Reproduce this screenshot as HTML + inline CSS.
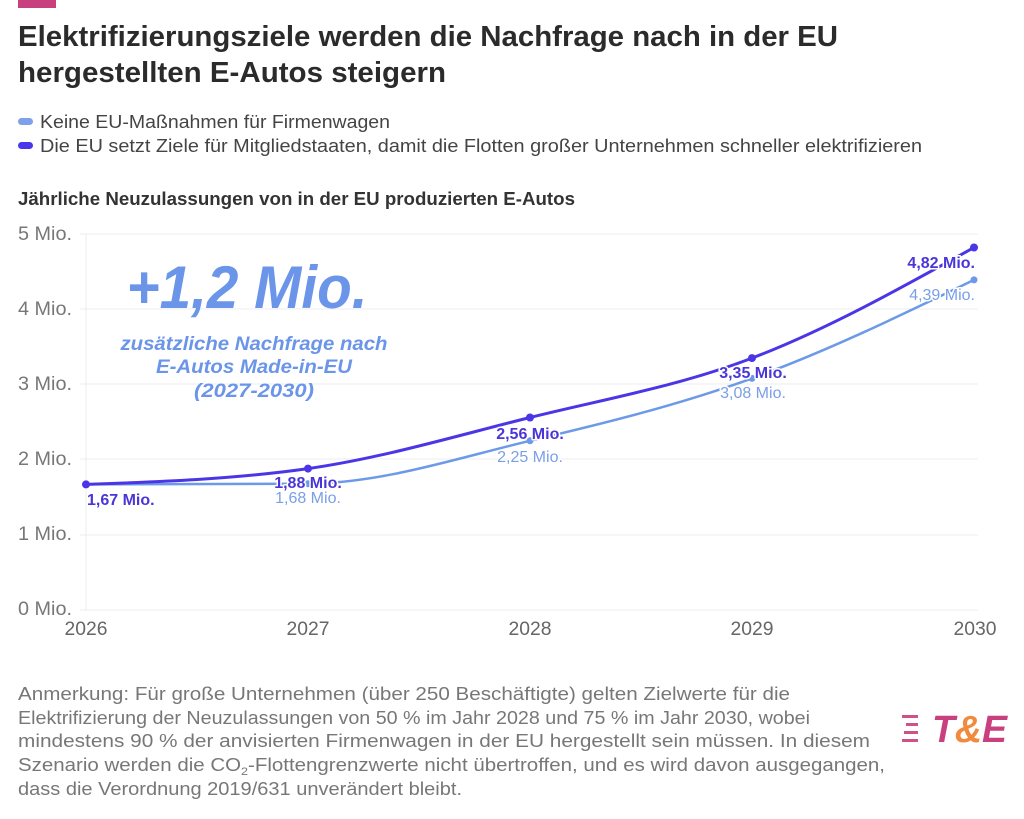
<!DOCTYPE html>
<html>
<head>
<meta charset="utf-8">
<style>
  html,body{margin:0;padding:0;background:#fff;}
  svg{display:block;}
  text{font-family:"Liberation Sans", Arial, sans-serif;}
</style>
</head>
<body>
<svg width="1024" height="819" viewBox="0 0 1024 819" xmlns="http://www.w3.org/2000/svg">
  <rect width="1024" height="819" fill="#fff"/>
  <!-- top pink bar -->
  <rect x="18" y="0" width="38" height="8" fill="#c9407e"/>

  <!-- title -->
  <text x="18" y="46" font-size="29" font-weight="bold" fill="#2b2b2b" textLength="820" lengthAdjust="spacingAndGlyphs">Elektrifizierungsziele werden die Nachfrage nach in der EU</text>
  <text x="18" y="82" font-size="29" font-weight="bold" fill="#2b2b2b" textLength="428" lengthAdjust="spacingAndGlyphs">hergestellten E-Autos steigern</text>

  <!-- legend -->
  <rect x="18" y="118" width="15" height="7" rx="3.5" fill="#7ea1ea"/>
  <text x="40" y="128" font-size="18" fill="#444" textLength="350" lengthAdjust="spacingAndGlyphs">Keine EU-Maßnahmen für Firmenwagen</text>
  <rect x="18" y="142" width="15" height="7" rx="3.5" fill="#4a36ec"/>
  <text x="40" y="152" font-size="18" fill="#444" textLength="882" lengthAdjust="spacingAndGlyphs">Die EU setzt Ziele für Mitgliedstaaten, damit die Flotten großer Unternehmen schneller elektrifizieren</text>

  <!-- subtitle -->
  <text x="18" y="205" font-size="18" font-weight="bold" fill="#333" textLength="557" lengthAdjust="spacingAndGlyphs">Jährliche Neuzulassungen von in der EU produzierten E-Autos</text>

  <!-- gridlines -->
  <g stroke="#ececec" stroke-width="1">
    <line x1="80" y1="234" x2="978" y2="234"/>
    <line x1="80" y1="309" x2="978" y2="309"/>
    <line x1="80" y1="384" x2="978" y2="384"/>
    <line x1="80" y1="459" x2="978" y2="459"/>
    <line x1="80" y1="535" x2="978" y2="535"/>
    <line x1="80" y1="610" x2="978" y2="610"/>
    <line x1="86" y1="234" x2="86" y2="610"/>
  </g>

  <!-- y labels -->
  <g font-size="19" fill="#777">
    <text x="18" y="240" textLength="54" lengthAdjust="spacingAndGlyphs">5 Mio.</text>
    <text x="18" y="315" textLength="54" lengthAdjust="spacingAndGlyphs">4 Mio.</text>
    <text x="18" y="390" textLength="54" lengthAdjust="spacingAndGlyphs">3 Mio.</text>
    <text x="18" y="465" textLength="54" lengthAdjust="spacingAndGlyphs">2 Mio.</text>
    <text x="18" y="540" textLength="54" lengthAdjust="spacingAndGlyphs">1 Mio.</text>
    <text x="18" y="615" textLength="54" lengthAdjust="spacingAndGlyphs">0 Mio.</text>
  </g>

  <!-- x labels -->
  <g font-size="19" fill="#666" text-anchor="middle">
    <text x="86" y="635" textLength="43" lengthAdjust="spacingAndGlyphs">2026</text>
    <text x="308" y="635" textLength="43" lengthAdjust="spacingAndGlyphs">2027</text>
    <text x="530" y="635" textLength="43" lengthAdjust="spacingAndGlyphs">2028</text>
    <text x="752" y="635" textLength="43" lengthAdjust="spacingAndGlyphs">2029</text>
    <text x="975" y="635" textLength="43" lengthAdjust="spacingAndGlyphs">2030</text>
  </g>

  <!-- annotation -->
  <g fill="#6b95e8" font-weight="bold" font-style="italic" text-anchor="middle">
    <text x="247" y="308" font-size="60" textLength="241" lengthAdjust="spacingAndGlyphs">+1,2 Mio.</text>
    <text x="254" y="350" font-size="19" textLength="267" lengthAdjust="spacingAndGlyphs">zusätzliche Nachfrage nach</text>
    <text x="254" y="373" font-size="19" textLength="196" lengthAdjust="spacingAndGlyphs">E-Autos Made-in-EU</text>
    <text x="254" y="397" font-size="19" textLength="120" lengthAdjust="spacingAndGlyphs">(2027-2030)</text>
  </g>

  <!-- light series -->
  <path d="M86,484.4 C160,484.3 234,484.2 308,483.7 C382,483.2 456,458.4 530,440.8 C604,423.3 678,405.2 752,378.4 C826,351.6 900,315.8 974,279.9" fill="none" stroke="#6d9ae8" stroke-width="2.5"/>
  <g fill="#6d9ae8">
    <circle cx="308" cy="483.7" r="3.5"/>
    <circle cx="530" cy="440.8" r="3.5"/>
    <circle cx="752" cy="378.4" r="3.5"/>
    <circle cx="974" cy="279.9" r="3.5"/>
  </g>

  <!-- dark series -->
  <path d="M86,484.4 C160,481.8 234,479.1 308,468.6 C382,458.1 456,435.9 530,417.5 C604,399.1 678,386.4 752,358.1 C826,329.8 900,288.6 974,247.5" fill="none" stroke="#4a36e6" stroke-width="3"/>
  <g fill="#4a36e6">
    <circle cx="86" cy="484.4" r="4"/>
    <circle cx="308" cy="468.6" r="4"/>
    <circle cx="530" cy="417.5" r="4"/>
    <circle cx="752" cy="358.1" r="4"/>
    <circle cx="974" cy="247.5" r="4"/>
  </g>

  <!-- value labels -->
  <g font-size="16" stroke="#fff" stroke-width="3" paint-order="stroke" stroke-linejoin="round">
    <text x="87" y="505" font-weight="bold" fill="#4a36d8">1,67 Mio.</text>
    <text x="308" y="488" font-weight="bold" fill="#4a36d8" text-anchor="middle">1,88 Mio.</text>
    <text x="308" y="503" fill="#7a9fe6" text-anchor="middle">1,68 Mio.</text>
    <text x="530" y="439" font-weight="bold" fill="#4a36d8" text-anchor="middle">2,56 Mio.</text>
    <text x="530" y="462" fill="#7a9fe6" text-anchor="middle">2,25 Mio.</text>
    <text x="753" y="378" font-weight="bold" fill="#4a36d8" text-anchor="middle">3,35 Mio.</text>
    <text x="753" y="398" fill="#7a9fe6" text-anchor="middle">3,08 Mio.</text>
    <text x="975" y="268" font-weight="bold" fill="#4a36d8" text-anchor="end">4,82 Mio.</text>
    <text x="975" y="300" fill="#7a9fe6" text-anchor="end">4,39 Mio.</text>
  </g>

  <!-- note -->
  <g font-size="18" fill="#777">
    <text x="18" y="700" textLength="772" lengthAdjust="spacingAndGlyphs">Anmerkung: Für große Unternehmen (über 250 Beschäftigte) gelten Zielwerte für die</text>
    <text x="18" y="724" textLength="792" lengthAdjust="spacingAndGlyphs">Elektrifizierung der Neuzulassungen von 50 % im Jahr 2028 und 75 % im Jahr 2030, wobei</text>
    <text x="18" y="747" textLength="852" lengthAdjust="spacingAndGlyphs">mindestens 90 % der anvisierten Firmenwagen in der EU hergestellt sein müssen. In diesem</text>
    <text x="18" y="771" textLength="867" lengthAdjust="spacingAndGlyphs">Szenario werden die CO<tspan font-size="11" dy="4">2</tspan><tspan dy="-4">-Flottengrenzwerte nicht übertroffen, und es wird davon ausgegangen,</tspan></text>
    <text x="18" y="795" textLength="444" lengthAdjust="spacingAndGlyphs">dass die Verordnung 2019/631 unverändert bleibt.</text>
  </g>

  <!-- T&E logo -->
  <g fill="#d0508a">
    <rect x="902" y="715" width="16" height="3"/>
    <rect x="906" y="723" width="12" height="3"/>
    <rect x="904" y="731" width="14" height="3"/>
    <rect x="902" y="739" width="16" height="3"/>
  </g>
  <text x="932" y="742" font-size="38" font-weight="bold" font-style="italic" textLength="75" lengthAdjust="spacingAndGlyphs"><tspan fill="#c9407e">T</tspan><tspan fill="#f08a3c">&amp;</tspan><tspan fill="#c9407e">E</tspan></text>
</svg>
</body>
</html>
